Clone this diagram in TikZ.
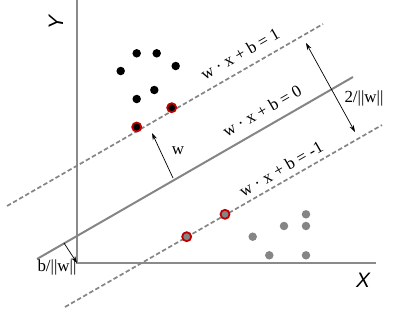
\documentclass[tikz,border=0pt]{standalone}
\usepackage{fontspec}
\setmainfont{Liberation Serif}
\newfontfamily\axisfont{Liberation Sans}
\usetikzlibrary{arrows.meta}
\definecolor{axisgray}{HTML}{8A8A8A}
\definecolor{linegray}{HTML}{858585}
\definecolor{dotgray}{HTML}{858585}
\definecolor{svred}{HTML}{C00000}
\begin{document}
\begin{tikzpicture}[x=1bp,y=1bp,
  axis/.style={draw=axisgray, line width=1.4bp},
  sepline/.style={draw=linegray, line width=2bp},
  marginline/.style={draw=linegray, line width=1.7bp, dash pattern=on 4.5bp off 2.5bp},
  posdot/.style={circle, fill=black, inner sep=0pt, minimum size=8.5bp},
  negdot/.style={circle, fill=dotgray, inner sep=0pt, minimum size=8.5bp},
  svdot/.style={draw=svred, line width=1.8bp, minimum size=9bp},
  lbl/.style={font=\fontsize{17}{19}\selectfont, inner sep=0pt},
  axlbl/.style={font=\axisfont\itshape\fontsize{21}{24}\selectfont, inner sep=0pt},
  vec/.style={-{Stealth[length=7bp,width=4.5bp]}, line width=0.7bp},
  dvec/.style={{Stealth[length=7bp,width=4.5bp]}-{Stealth[length=7bp,width=4.5bp]}, line width=0.7bp}
]
\useasboundingbox (0,0) rectangle (397,-317);
% axes
\coordinate (o) at (77,-263);
\coordinate (ytop) at (77,0);
\coordinate (xend) at (376,-263);
\draw[axis] (ytop) -- (o) -- (xend);
\node[axlbl, rotate=90] (ylab) at (56,-23) {Y};
\node[axlbl] (xlab) at (363,-280) {X};
% hyperplanes
\coordinate (u1) at (7,-206);   \coordinate (u2) at (323,-24);
\coordinate (m1) at (37,-259);  \coordinate (m2) at (353,-77);
\coordinate (l1) at (65,-307);  \coordinate (l2) at (382,-125);
\draw[marginline] (u1) -- (u2);
\draw[sepline] (m1) -- (m2);
\draw[marginline] (l1) -- (l2);
% labels on lines
\node[lbl, rotate=30] (equp) at (240,-54) {w · x + b = 1};
\node[lbl, rotate=30] (eqmid) at (262,-111) {w · x + b = 0};
\node[lbl, rotate=30] (eqlow) at (281,-169) {w · x + b = -1};
% positive class
\node[posdot] (p1) at (136.7,-53.3) {};
\node[posdot] (p2) at (156.7,-53.3) {};
\node[posdot] (p3) at (120.7,-71) {};
\node[posdot] (p4) at (175.7,-66) {};
\node[posdot] (p5) at (154.3,-90) {};
\node[posdot] (p6) at (136.7,-99) {};
\node[posdot, svdot] (p7) at (171.7,-107.7) {};
\node[posdot, svdot] (p8) at (136.7,-127) {};
% negative class
\node[negdot] (n1) at (306,-214.3) {};
\node[negdot] (n2) at (306,-226) {};
\node[negdot] (n3) at (284,-226) {};
\node[negdot] (n4) at (252.7,-236.7) {};
\node[negdot] (n5) at (269.3,-255.3) {};
\node[negdot] (n6) at (306,-255.3) {};
\node[negdot, svdot] (n7) at (225,-214.3) {};
\node[negdot, svdot] (n8) at (186.7,-236.7) {};
% w vector
\coordinate (wa) at (173,-178);
\coordinate (wb) at (152,-133);
\draw[vec] (wa) -- (wb);
\node[lbl] (wlab) at (178,-151) {w};
% margin width
\coordinate (ma) at (306,-43);
\coordinate (mb) at (355,-132);
\draw[dvec] (ma) -- (mb);
\node[lbl] (mlab) at (364,-98) {2/||w||};
% offset
\coordinate (ba) at (64,-243);
\draw[vec] (ba) -- (o);
\node[lbl] (blab) at (57,-267) {b/||w||};
\end{tikzpicture}
\end{document}
